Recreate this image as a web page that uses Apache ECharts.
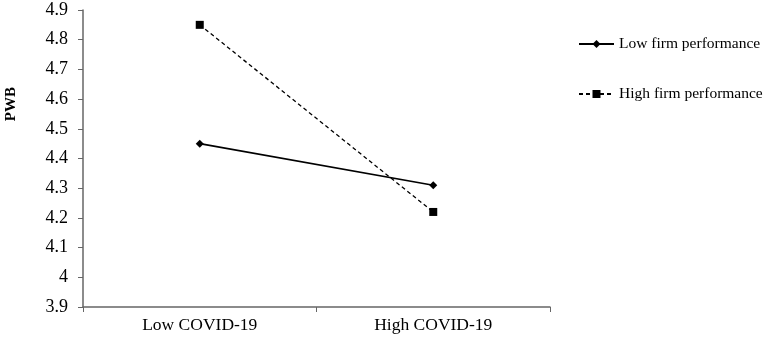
<!DOCTYPE html>
<html>
<head>
<meta charset="utf-8">
<script src="https://cdn.jsdelivr.net/npm/echarts@6/dist/echarts.min.js"></script>
<style>
  html, body { margin: 0; padding: 0; background: #fff; }
  #chart { width: 765px; height: 340px; }
</style>
</head>
<body>
<div id="chart"></div>
<script>
var categories = ['Low COVID-19', 'High COVID-19'];
var lowFirm = [4.45, 4.31];
var highFirm = [4.85, 4.22];
var seriesNames = ['Low firm performance', 'High firm performance'];

var font = 'Liberation Serif, Times New Roman, serif';

var myChart = echarts.init(document.getElementById('chart'), null, { renderer: 'canvas' });

var option = {
    animation: false,
    backgroundColor: '#fff',
    textStyle: { fontFamily: font, color: '#000' },
    grid: {
        left: 83,
        right: 215,
        top: 10,
        bottom: 33
    },
    legend: {
        orient: 'vertical',
        left: 578,
        top: 36,
        padding: 0,
        itemWidth: 35,
        itemHeight: 10,
        itemGap: 34,
        textStyle: { fontFamily: font, fontSize: 15.5, color: '#000' },
        data: seriesNames
    },
    graphic: [{
        type: 'text',
        left: 4,
        top: 87,
        rotation: Math.PI / 2,
        style: {
            text: 'PWB',
            font: 'bold 15px ' + font,
            fill: '#000'
        }
    }],
    xAxis: {
        type: 'category',
        data: categories,
        boundaryGap: true,
        axisLine: { lineStyle: { color: '#666', width: 1.5 } },
        axisTick: { show: true, length: 5, lineStyle: { color: '#666' } },
        axisLabel: { fontFamily: font, fontSize: 17.5, color: '#000', margin: 9 }
    },
    yAxis: {
        type: 'value',
        min: 3.9,
        max: 4.9,
        interval: 0.1,
        axisLine: { show: true, lineStyle: { color: '#666', width: 1.5 } },
        axisTick: { show: true, length: 5, lineStyle: { color: '#666' } },
        splitLine: { show: false },
        axisLabel: {
            fontFamily: font,
            fontSize: 18,
            color: '#000',
            margin: 15,
            formatter: function (v) { return String(Math.round(v * 10) / 10); }
        }
    },
    series: [{
        name: seriesNames[0],
        type: 'line',
        data: lowFirm,
        symbol: 'diamond',
        symbolSize: 8,
        itemStyle: { color: '#000' },
        lineStyle: { color: '#000', width: 1.6, type: 'solid' }
    }, {
        name: seriesNames[1],
        type: 'line',
        data: highFirm,
        symbol: 'rect',
        symbolSize: 8,
        itemStyle: { color: '#000' },
        lineStyle: { color: '#000', width: 1.3, type: [4, 3] }
    }]
};

myChart.setOption(option);
</script>
</body>
</html>
